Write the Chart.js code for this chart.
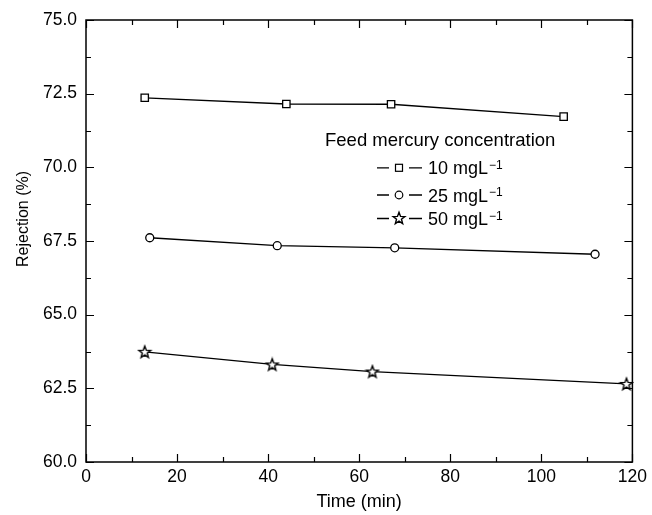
<!DOCTYPE html>
<html>
<head>
<meta charset="utf-8">
<script src="https://cdn.jsdelivr.net/npm/chart.js@4.4.0/dist/chart.umd.min.js"></script>
<style>
  html, body { margin: 0; padding: 0; background: #fff; }
</style>
</head>
<body>
<canvas id="chart" width="652" height="515"></canvas>
<script>
// axis ticks
const timeTicks = [0, 20, 40, 60, 80, 100, 120];
const rejectionTicks = [60, 62.5, 65, 67.5, 70, 72.5, 75];

// series (feed mercury concentration)
const seriesLabels = ['10 mgL', '25 mgL', '50 mgL'];
const time10 = [12.9, 44.0, 67.0, 104.9];
const rej10 = [72.36, 72.15, 72.14, 71.72];
const time25 = [14.0, 42.0, 67.8, 111.8];
const rej25 = [67.61, 67.34, 67.27, 67.05];
const time50 = [12.9, 40.9, 62.9, 118.7];
const rej50 = [63.74, 63.31, 63.07, 62.65];

const FONT = '"Liberation Sans", Arial, Helvetica, sans-serif';

function starPath(ctx, cx, cy, ro, ri) {
  ctx.beginPath();
  for (let i = 0; i < 10; i++) {
    const r = i % 2 ? ri : ro;
    const a = -Math.PI / 2 + i * Math.PI / 5;
    const px = cx + r * Math.cos(a), py = cy + r * Math.sin(a);
    i ? ctx.lineTo(px, py) : ctx.moveTo(px, py);
  }
  ctx.closePath();
}

// five-point star marker (Chart.js 'star' is an asterisk)
const starImg = document.createElement('canvas');
starImg.width = 16; starImg.height = 16;
(function () {
  const c = starImg.getContext('2d');
  starPath(c, 8, 8.5, 6.2, 2.6);
  c.fillStyle = '#fff'; c.fill();
  c.strokeStyle = '#000'; c.lineWidth = 1.4; c.stroke();
})();

const toPts = (xs, ys) => xs.map((v, i) => ({ x: v, y: ys[i] }));

const common = {
  showLine: true,
  borderColor: '#000',
  borderWidth: 1.3,
  pointBackgroundColor: '#fff',
  pointBorderColor: '#000',
  pointBorderWidth: 1.3,
  clip: false
};

const frame = {
  id: 'frame',
  afterDraw(chart) {
    const { ctx, chartArea: a, scales: { x, y } } = chart;
    ctx.save();
    ctx.strokeStyle = '#000';
    ctx.lineWidth = 1.5;
    ctx.strokeRect(a.left, a.top, a.right - a.left, a.bottom - a.top);

    // inward ticks on all four sides
    ctx.lineWidth = 1.2;
    ctx.beginPath();
    const xStep = timeTicks[1] - timeTicks[0];
    for (let v = timeTicks[0]; v <= timeTicks[timeTicks.length - 1]; v += xStep / 2) {
      const px = Math.round(x.getPixelForValue(v)) + 0.5;
      const len = timeTicks.includes(v) ? 8 : 5;
      ctx.moveTo(px, a.bottom); ctx.lineTo(px, a.bottom - len);
      ctx.moveTo(px, a.top); ctx.lineTo(px, a.top + len);
    }
    const yStep = rejectionTicks[1] - rejectionTicks[0];
    for (let v = rejectionTicks[0]; v <= rejectionTicks[rejectionTicks.length - 1]; v += yStep / 2) {
      const py = Math.round(y.getPixelForValue(v)) + 0.5;
      const len = rejectionTicks.includes(v) ? 8 : 5;
      ctx.moveTo(a.left, py); ctx.lineTo(a.left + len, py);
      ctx.moveTo(a.right, py); ctx.lineTo(a.right - len, py);
    }
    ctx.stroke();

    // y axis title
    ctx.fillStyle = '#000';
    ctx.font = '16px ' + FONT;
    ctx.textAlign = 'center';
    ctx.textBaseline = 'middle';
    ctx.save();
    ctx.translate(24, 219);
    ctx.rotate(-Math.PI / 2);
    ctx.fillText('Rejection (%)', 0, 0);
    ctx.restore();

    // legend
    ctx.textAlign = 'left';
    ctx.textBaseline = 'alphabetic';
    ctx.font = '18.5px ' + FONT;
    ctx.fillText('Feed mercury concentration', 325, 146);
    const rows = [174.3, 201.5, 225];
    rows.forEach((base, i) => {
      const cy = base - 6.5;
      ctx.lineWidth = 1.3;
      ctx.beginPath();
      ctx.moveTo(377, cy); ctx.lineTo(389, cy);
      ctx.moveTo(409, cy); ctx.lineTo(422, cy);
      ctx.stroke();
      ctx.lineWidth = 1.2;
      if (i === 0) {
        ctx.fillStyle = '#fff';
        ctx.fillRect(395.5, cy - 3.5, 7, 7);
        ctx.strokeRect(395.5, cy - 3.5, 7, 7);
      } else if (i === 1) {
        ctx.beginPath();
        ctx.arc(399, cy, 3.8, 0, Math.PI * 2);
        ctx.fillStyle = '#fff'; ctx.fill(); ctx.stroke();
      } else {
        ctx.drawImage(starImg, 399 - 8, cy - 8.5);
      }
      ctx.fillStyle = '#000';
      ctx.font = '18px ' + FONT;
      ctx.fillText(seriesLabels[i], 428, base);
      const w = ctx.measureText(seriesLabels[i]).width;
      ctx.font = '12px ' + FONT;
      ctx.fillText('\u22121', 428 + w + 1, base - 5.5);
    });
    ctx.restore();
  }
};

new Chart(document.getElementById('chart'), {
  type: 'scatter',
  data: {
    datasets: [
      Object.assign({ label: seriesLabels[0], data: toPts(time10, rej10), pointStyle: 'rect', pointRadius: 5.2 }, common),
      Object.assign({ label: seriesLabels[1], data: toPts(time25, rej25), pointStyle: 'circle', pointRadius: 4 }, common),
      Object.assign({ label: seriesLabels[2], data: toPts(time50, rej50), pointStyle: starImg, pointRadius: 6 }, common)
    ]
  },
  options: {
    responsive: false,
    animation: false,
    events: [],
    layout: { padding: { top: 20, right: 16, left: 0, bottom: 0 } },
    plugins: { legend: { display: false }, tooltip: { enabled: false } },
    scales: {
      x: {
        type: 'linear',
        min: 0, max: 120,
        afterFit: s => { s.height = 53; },
        grid: { display: false, drawTicks: false },
        border: { display: false },
        ticks: { stepSize: 20, padding: 5, color: '#000', font: { family: FONT, size: 17.5 } },
        title: { display: true, text: 'Time (min)', color: '#000', font: { family: FONT, size: 18 }, padding: { top: 0, bottom: 2 } }
      },
      y: {
        type: 'linear',
        min: 60, max: 75,
        afterFit: s => { s.width = 86; },
        grid: { display: false, drawTicks: false },
        border: { display: false },
        ticks: { stepSize: 2.5, padding: 9, color: '#000', font: { family: FONT, size: 17.5 }, callback: v => v.toFixed(1) }
      }
    }
  },
  plugins: [frame]
});
</script>
</body>
</html>
